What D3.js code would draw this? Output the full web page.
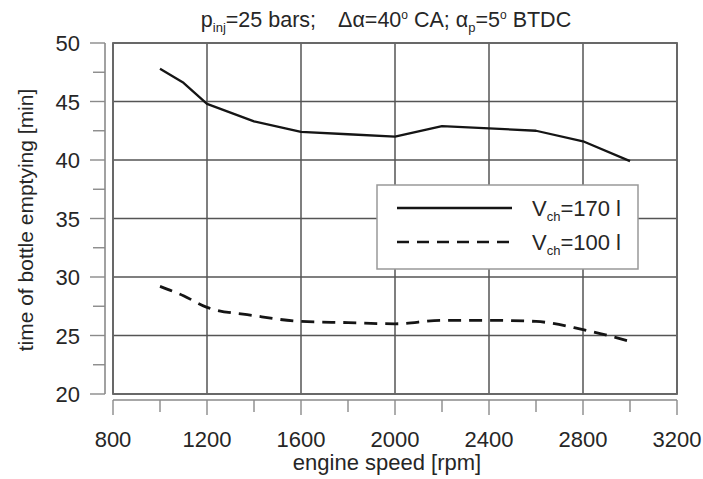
<!DOCTYPE html>
<html>
<head>
<meta charset="utf-8">
<script src="https://cdn.jsdelivr.net/npm/d3@7"></script>
<style>
  body { margin: 0; background: #fff; }
  text { font-family: "Liberation Sans", Arial, sans-serif; fill: #262626; }
</style>
</head>
<body>
<div id="chart"></div>
<script>
// data
var speeds = [1000, 1100, 1200, 1400, 1600, 1800, 2000, 2200, 2400, 2600, 2800, 3000];
var time170 = [47.8, 46.6, 44.8, 43.3, 42.4, 42.2, 42.0, 42.9, 42.7, 42.5, 41.6, 39.9];
var time100 = [29.2, 28.4, 27.4, 26.7, 26.2, 26.1, 26.0, 26.3, 26.3, 26.2, 25.5, 24.5];
var xTicks = [800, 1200, 1600, 2000, 2400, 2800, 3200];
var yTicks = [20, 25, 30, 35, 40, 45, 50];
var seriesNames = ["170 l", "100 l"];

var width = 703, height = 479;
var plot = { left: 113, right: 677, top: 43, bottom: 394 };

var svg = d3.select("#chart").append("svg")
  .attr("width", width)
  .attr("height", height);

var x = d3.scaleLinear().domain([800, 3200]).range([plot.left, plot.right]);
var y = d3.scaleLinear().domain([20, 50]).range([plot.bottom, plot.top]);

var gridColor = "#555";
var axisColor = "#8a8a8a";

// grid
svg.append("g").selectAll("line")
  .data(xTicks)
  .enter().append("line")
  .attr("x1", function (d) { return x(d); })
  .attr("x2", function (d) { return x(d); })
  .attr("y1", plot.top).attr("y2", plot.bottom)
  .attr("stroke", gridColor).attr("stroke-width", 1.5);

svg.append("g").selectAll("line")
  .data(yTicks)
  .enter().append("line")
  .attr("y1", function (d) { return y(d); })
  .attr("y2", function (d) { return y(d); })
  .attr("x1", plot.left).attr("x2", plot.right)
  .attr("stroke", gridColor).attr("stroke-width", 1.5);

// frame
svg.append("rect")
  .attr("x", plot.left).attr("y", plot.top)
  .attr("width", plot.right - plot.left)
  .attr("height", plot.bottom - plot.top)
  .attr("fill", "none").attr("stroke", "#666").attr("stroke-width", 1.8);

// detached y axis
var yAxisX = 105;
var yMinor = d3.range(22.5, 50, 5);
svg.append("line")
  .attr("x1", yAxisX).attr("x2", yAxisX)
  .attr("y1", y(20)).attr("y2", y(50))
  .attr("stroke", axisColor).attr("stroke-width", 1.6);
svg.append("g").selectAll("line")
  .data(yTicks)
  .enter().append("line")
  .attr("x1", yAxisX - 15).attr("x2", yAxisX)
  .attr("y1", function (d) { return y(d); })
  .attr("y2", function (d) { return y(d); })
  .attr("stroke", axisColor).attr("stroke-width", 1.4);
svg.append("g").selectAll("line")
  .data(yMinor)
  .enter().append("line")
  .attr("x1", yAxisX - 12).attr("x2", yAxisX)
  .attr("y1", function (d) { return y(d); })
  .attr("y2", function (d) { return y(d); })
  .attr("stroke", axisColor).attr("stroke-width", 1.4);
svg.append("g").selectAll("text")
  .data(yTicks)
  .enter().append("text")
  .attr("x", 80)
  .attr("y", function (d) { return y(d) + 8; })
  .attr("text-anchor", "end")
  .attr("font-size", 22)
  .text(function (d) { return d; });

// detached x axis
var xAxisY = 400;
var xMinor = d3.range(1000, 3200, 400);
svg.append("line")
  .attr("x1", x(800)).attr("x2", x(3200))
  .attr("y1", xAxisY).attr("y2", xAxisY)
  .attr("stroke", axisColor).attr("stroke-width", 1.6);
svg.append("g").selectAll("line")
  .data(xTicks)
  .enter().append("line")
  .attr("x1", function (d) { return x(d); })
  .attr("x2", function (d) { return x(d); })
  .attr("y1", xAxisY).attr("y2", xAxisY + 15)
  .attr("stroke", axisColor).attr("stroke-width", 1.4);
svg.append("g").selectAll("line")
  .data(xMinor)
  .enter().append("line")
  .attr("x1", function (d) { return x(d); })
  .attr("x2", function (d) { return x(d); })
  .attr("y1", xAxisY).attr("y2", xAxisY + 12)
  .attr("stroke", axisColor).attr("stroke-width", 1.4);
svg.append("g").selectAll("text")
  .data(xTicks)
  .enter().append("text")
  .attr("x", function (d) { return x(d); })
  .attr("y", 447)
  .attr("text-anchor", "middle")
  .attr("font-size", 22)
  .text(function (d) { return d; });

// axis titles
svg.append("text")
  .attr("x", 387).attr("y", 470)
  .attr("text-anchor", "middle")
  .attr("font-size", 22)
  .text("engine speed [rpm]");

svg.append("text")
  .attr("transform", "translate(33,220) rotate(-90)")
  .attr("text-anchor", "middle")
  .attr("font-size", 21)
  .text("time of bottle emptying [min]");

// title
var title = svg.append("text")
  .attr("x", 386).attr("y", 27)
  .attr("text-anchor", "middle")
  .attr("font-size", 21.5);
title.append("tspan").text("p");
title.append("tspan").attr("font-size", 13).attr("dy", 5).text("inj");
title.append("tspan").attr("dy", -5).text("=25 bars;");
title.append("tspan").attr("dx", 22).text("\u0394\u03b1=40");
title.append("tspan").attr("font-size", 12).attr("dy", -8).text("o");
title.append("tspan").attr("dy", 8).text(" CA; \u03b1");
title.append("tspan").attr("font-size", 13).attr("dy", 5).text("p");
title.append("tspan").attr("dy", -5).text("=5");
title.append("tspan").attr("font-size", 12).attr("dy", -8).text("o");
title.append("tspan").attr("dy", 8).text(" BTDC");

// data lines
var line = d3.line()
  .x(function (d, i) { return x(speeds[i]); })
  .y(function (d) { return y(d); });

svg.append("path")
  .datum(time170)
  .attr("d", line)
  .attr("fill", "none")
  .attr("stroke", "#151515")
  .attr("stroke-width", 2.3)
  .attr("stroke-linejoin", "round");

svg.append("path")
  .datum(time100)
  .attr("d", line.curve(d3.curveMonotoneX))
  .attr("fill", "none")
  .attr("stroke", "#151515")
  .attr("stroke-width", 2.8)
  .attr("stroke-dasharray", "13,8");

// legend
var lg = svg.append("g").attr("transform", "translate(377,185)");
lg.append("rect")
  .attr("width", 261).attr("height", 84)
  .attr("fill", "#fff").attr("stroke", "#999").attr("stroke-width", 1.5);

var dashes = [null, "12,8"];
seriesNames.forEach(function (name, i) {
  var ly = 23 + i * 34;
  lg.append("line")
    .attr("x1", 20).attr("x2", 135)
    .attr("y1", ly).attr("y2", ly)
    .attr("stroke", "#151515").attr("stroke-width", 2.5)
    .attr("stroke-dasharray", dashes[i]);
  var t = lg.append("text")
    .attr("x", 155).attr("y", ly + 8)
    .attr("font-size", 22);
  t.append("tspan").text("V");
  t.append("tspan").attr("font-size", 13).attr("dy", 5).text("ch");
  t.append("tspan").attr("dy", -5).text("=" + name);
});
</script>
</body>
</html>
